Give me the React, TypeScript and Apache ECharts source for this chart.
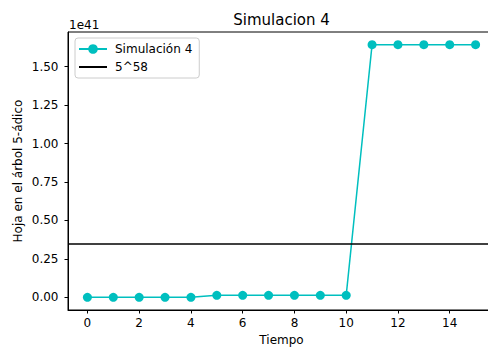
import React, { useEffect, useRef } from "react";
import * as echarts from "echarts";

// Data (values in units of 1e41)
const timeSteps = [0, 1, 2, 3, 4, 5, 6, 7, 8, 9, 10, 11, 12, 13, 14, 15];
const simValues = [0, 0, 0, 0, 0, 0.013, 0.013, 0.013, 0.013, 0.013, 0.013, 1.643, 1.643, 1.643, 1.643, 1.643];
const refValue = 0.347; // 5^58 / 1e41
const xTicks = [0, 2, 4, 6, 8, 10, 12, 14];
const yTicks = [0, 0.25, 0.5, 0.75, 1.0, 1.25, 1.5];
const seriesNames = ["Simulación 4", "5^58"];
const scaleLabel = "1e41";
const titleText = "Simulacion 4";
const xName = "Tiempo";
const yName = "Hoja en el árbol 5-ádico";

const X_MIN = -0.75;
const X_MAX = 15.75;
const Y_MIN = -0.0822;
const Y_MAX = 1.7252;

const FONT = "DejaVu Sans";

export default function App() {
  const ref = useRef<HTMLDivElement>(null);
  useEffect(() => {
    if (!ref.current) return;
    const chart = echarts.init(ref.current, undefined, { renderer: "svg" });
    chart.setOption({
      animation: false,
      backgroundColor: "#ffffff",
      grid: {
        left: 68,
        top: 32,
        width: 427,
        height: 278,
        show: true,
        borderColor: "#000",
        borderWidth: 1,
        backgroundColor: "transparent",
        containLabel: false,
        outerBoundsMode: "none",
      },
      legend: {
        orient: "vertical",
        left: 75,
        top: 38,
        padding: [5, 7, 5, 3],
        itemGap: 6,
        itemWidth: 28,
        itemHeight: 12,
        backgroundColor: "rgba(255,255,255,0.8)",
        borderColor: "#cccccc",
        borderWidth: 1,
        borderRadius: 3,
        textStyle: { fontFamily: FONT, fontSize: 12, color: "#000", padding: [0, 0, 0, 3] },
        data: [
          { name: seriesNames[0] },
          { name: seriesNames[1], itemStyle: { opacity: 0 } },
        ],
      },
      xAxis: {
        type: "value",
        min: X_MIN,
        max: X_MAX,
        splitLine: { show: false },
        axisLine: { show: true, onZero: false, lineStyle: { color: "#000", width: 1 } },
        axisTick: { show: true, length: 3.5, lineStyle: { color: "#000" }, customValues: xTicks },
        axisLabel: {
          customValues: xTicks,
          margin: 7,
          fontFamily: FONT,
          fontSize: 12,
          color: "#000",
          formatter: (v: number) => String(v),
        },
      },
      yAxis: {
        type: "value",
        min: Y_MIN,
        max: Y_MAX,
        splitLine: { show: false },
        axisLine: { show: true, onZero: false, lineStyle: { color: "#000", width: 1 } },
        axisTick: { show: true, length: 3.5, lineStyle: { color: "#000" }, customValues: yTicks },
        axisLabel: {
          customValues: yTicks,
          margin: 9.5,
          fontFamily: FONT,
          fontSize: 12,
          color: "#000",
          formatter: (v: number) => v.toFixed(2),
        },
      },
      graphic: [
        {
          type: "text",
          x: 281.5,
          y: 19.5,
          style: { text: titleText, font: `15px "${FONT}"`, fill: "#000", textAlign: "center", textVerticalAlign: "middle" },
        },
        {
          type: "text",
          x: 69,
          y: 24.5,
          style: { text: scaleLabel, font: `12px "${FONT}"`, fill: "#000", textAlign: "left", textVerticalAlign: "middle" },
        },
        {
          type: "text",
          x: 281.5,
          y: 340,
          style: { text: xName, font: `12px "${FONT}"`, fill: "#000", textAlign: "center", textVerticalAlign: "middle" },
        },
        {
          type: "text",
          x: 18,
          y: 171,
          rotation: Math.PI / 2,
          style: { text: yName, font: `12px "${FONT}"`, fill: "#000", textAlign: "center", textVerticalAlign: "middle" },
        },
      ],
      series: [
        {
          name: seriesNames[0],
          type: "line",
          data: timeSteps.map((t, i) => [t, simValues[i]]),
          symbol: "circle",
          symbolSize: 9,
          showSymbol: true,
          itemStyle: { color: "#00bfbf" },
          lineStyle: { color: "#00bfbf", width: 1.5 },
        },
        {
          name: seriesNames[1],
          type: "line",
          data: [
            [X_MIN, refValue],
            [X_MAX, refValue],
          ],
          symbol: "none",
          itemStyle: { color: "#000" },
          lineStyle: { color: "#000", width: 1.5 },
        },
      ],
    });
    return () => chart.dispose();
  }, []);
  return <div ref={ref} style={{ width: 488, height: 347, position: "absolute", left: 0, top: 0 }} />;
}
